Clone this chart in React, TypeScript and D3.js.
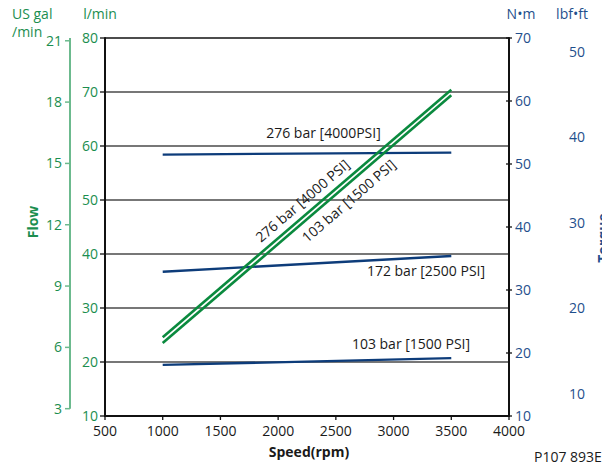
import React from "react";
import * as d3 from "d3";

// ---- data ----
const speedTicks = [500, 1000, 1500, 2000, 2500, 3000, 3500, 4000];
const flowTicks = [10, 20, 30, 40, 50, 60, 70, 80];
const galTicks = [3, 6, 9, 12, 15, 18, 21];
const nmTicks = [10, 20, 30, 40, 50, 60, 70];
const lbfTicks = [10, 20, 30, 40, 50];

const speeds = [1000, 3500];
// flow (l/min)
const flow276 = [24.6, 70.4];
const flow103 = [23.5, 69.4];
// torque (N·m)
const torque276 = [51.5, 51.8];
const torque172 = [32.9, 35.4];
const torque103 = [18.1, 19.2];

const L_PER_GAL = 3.785;
const NM_PER_LBFFT = 1.3558;

// ---- layout ----
const W = 602;
const H = 468;
const X0 = 105, X1 = 509, Y0 = 416, Y1 = 38;

const FONT = "'Open Sans', sans-serif";
const GREEN_TXT = "#1b8e4f";
const GREEN_AXIS = "#6cba8e";
const GREEN_LINE = "#0a8a3e";
const BLUE_TXT = "#1f4f8c";
const BLUE_LINE = "#0d3c7a";

export default function App() {
  const x = d3.scaleLinear().domain([500, 4000]).range([X0, X1]);
  const yFlow = d3.scaleLinear().domain([10, 80]).range([Y0, Y1]);
  const yNm = d3.scaleLinear().domain([10, 70]).range([Y0, Y1]);
  const yGal = d3.scaleLinear().domain([10 / L_PER_GAL, 80 / L_PER_GAL]).range([Y0, Y1]);
  const yLbf = d3.scaleLinear().domain([10 / NM_PER_LBFFT, 70 / NM_PER_LBFFT]).range([Y0, Y1]);

  const flowLine = d3.line<number>().x((_, i) => x(speeds[i])).y((d) => yFlow(d));
  const nmLine = d3.line<number>().x((_, i) => x(speeds[i])).y((d) => yNm(d));

  // rotated label helper along a flow line
  const rotLabel = (vals: number[], rpm: number, dy: number, text: string) => {
    const px0 = x(speeds[0]), py0 = yFlow(vals[0]);
    const px1 = x(speeds[1]), py1 = yFlow(vals[1]);
    const ang = (Math.atan2(py1 - py0, px1 - px0) * 180) / Math.PI;
    const t = (rpm - speeds[0]) / (speeds[1] - speeds[0]);
    const fv = vals[0] + t * (vals[1] - vals[0]);
    return (
      <text
        transform={`translate(${x(rpm)},${yFlow(fv)}) rotate(${ang})`}
        y={dy}
        textAnchor="middle"
        fontSize={14}
        fill="#1a1a1a"
      >
        {text}
      </text>
    );
  };

  return (
    <svg
      width={W}
      height={H}
      style={{ position: "absolute", left: 0, top: 0, background: "#fff" }}
      fontFamily={FONT}
    >
      {/* gridlines */}
      {flowTicks.slice(1, -1).map((v) => (
        <line key={"g" + v} x1={X0} x2={X1} y1={yFlow(v)} y2={yFlow(v)} stroke="#4a4a4a" strokeWidth={1.3} />
      ))}
      {/* frame */}
      <line x1={X0} x2={X1} y1={Y1} y2={Y1} stroke="#111" strokeWidth={1.5} />
      <line x1={X0} x2={X0} y1={Y1 - 0.75} y2={Y0 + 1} stroke="#111" strokeWidth={2} />
      <line x1={X1} x2={X1} y1={Y1 - 0.75} y2={Y0 + 1} stroke="#111" strokeWidth={2} />
      <line x1={X0 - 1} x2={X1 + 1} y1={Y0} y2={Y0} stroke="#111" strokeWidth={2} />

      {/* x ticks */}
      {speedTicks.map((v) => (
        <g key={"x" + v}>
          <line x1={x(v)} x2={x(v)} y1={Y0} y2={Y0 + 4} stroke="#111" strokeWidth={1.3} />
          <text x={x(v)} y={436} textAnchor="middle" fontSize={14} fill="#1a1a1a">
            {v}
          </text>
        </g>
      ))}
      <text x={309} y={457} textAnchor="middle" fontSize={14} fontWeight="bold" fill="#1a1a1a">
        Speed(rpm)
      </text>

      {/* l/min axis */}
      {flowTicks.map((v) => (
        <g key={"f" + v}>
          <line x1={X0 - 5} x2={X0} y1={yFlow(v)} y2={yFlow(v)} stroke="#111" strokeWidth={1.3} />
          <text x={98} y={yFlow(v)} dy="0.36em" textAnchor="end" fontSize={14} fill={GREEN_TXT}>
            {v}
          </text>
        </g>
      ))}
      <text x={100} y={19} textAnchor="middle" fontSize={14} fill={GREEN_TXT}>
        l/min
      </text>

      {/* US gal axis */}
      <line x1={70} x2={70} y1={Y1} y2={yGal(3)} stroke={GREEN_AXIS} strokeWidth={2} />
      {galTicks.map((v) => (
        <g key={"gal" + v}>
          <line x1={65} x2={70} y1={yGal(v)} y2={yGal(v)} stroke={GREEN_AXIS} strokeWidth={1.5} />
          <text x={62} y={yGal(v)} dy="0.36em" textAnchor="end" fontSize={14} fill={GREEN_TXT}>
            {v}
          </text>
        </g>
      ))}
      <text x={12} y={19} fontSize={14} fill={GREEN_TXT}>
        US gal
      </text>
      <text x={12} y={37} fontSize={14} fill={GREEN_TXT}>
        /min
      </text>
      <text transform="translate(38,222) rotate(-90)" textAnchor="middle" fontSize={14} fontWeight="bold" fill={GREEN_TXT}>
        Flow
      </text>

      {/* N·m axis */}
      {nmTicks.map((v) => (
        <g key={"nm" + v}>
          <line x1={X1 - 3} x2={X1 + 3} y1={yNm(v)} y2={yNm(v)} stroke="#111" strokeWidth={1.3} />
          <text x={515} y={yNm(v)} dy="0.36em" fontSize={14} fill={BLUE_TXT}>
            {v}
          </text>
        </g>
      ))}
      <text x={521} y={19} textAnchor="middle" fontSize={14} fill={BLUE_TXT}>
        N•m
      </text>

      {/* lbf·ft axis */}
      {lbfTicks.map((v) => (
        <text key={"lb" + v} x={577} y={yLbf(v)} dy="0.36em" textAnchor="middle" fontSize={14} fill={BLUE_TXT}>
          {v}
        </text>
      ))}
      <text x={572} y={19} textAnchor="middle" fontSize={14} fill={BLUE_TXT}>
        lbf•ft
      </text>
      <text transform="translate(608,238) rotate(-90)" textAnchor="middle" fontSize={14} fontWeight="bold" fill={BLUE_TXT}>
        Torque
      </text>

      {/* torque lines */}
      {[torque276, torque172, torque103].map((s, i) => (
        <path key={"t" + i} d={nmLine(s) || ""} fill="none" stroke={BLUE_LINE} strokeWidth={2.3} />
      ))}

      {/* flow lines */}
      {[flow276, flow103].map((s, i) => (
        <path key={"fl" + i} d={flowLine(s) || ""} fill="none" stroke={GREEN_LINE} strokeWidth={2.6} />
      ))}

      {/* labels */}
      <text x={x(2393)} y={yNm(54.1)} textAnchor="middle" fontSize={14} fill="#1a1a1a">
        276 bar [4000PSI]
      </text>
      <text x={x(3281)} y={yNm(32.2)} textAnchor="middle" fontSize={14} fill="#1a1a1a">
        172 bar [2500 PSI]
      </text>
      <text x={x(3151)} y={yNm(20.6)} textAnchor="middle" fontSize={14} fill="#1a1a1a">
        103 bar [1500 PSI]
      </text>
      {rotLabel(flow276, 2282, -7.5, "276 bar [4000 PSI]")}
      {rotLabel(flow103, 2537, 18.5, "103 bar [1500 PSI]")}

      <text x={534} y={462} fontSize={14} fill="#1a1a1a">
        P107 893E
      </text>
    </svg>
  );
}
